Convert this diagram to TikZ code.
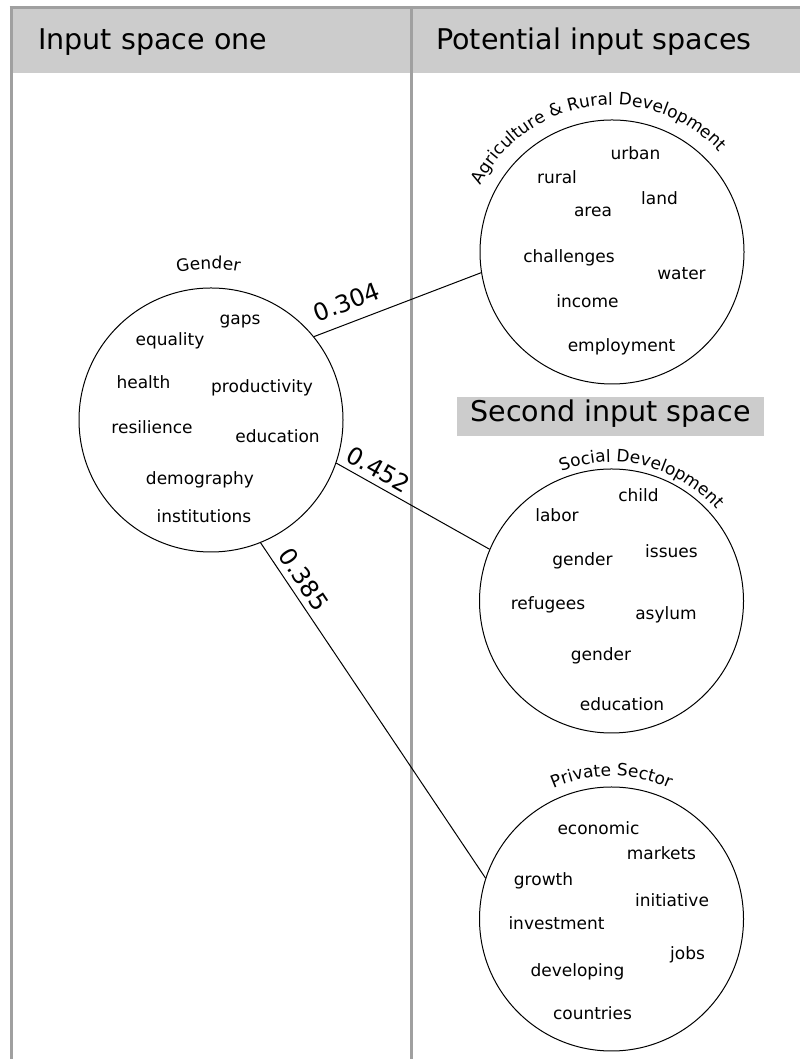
\documentclass[tikz,border=0pt]{standalone}
\usepackage{fontspec}
\setmainfont{DejaVu Sans}
\usetikzlibrary{decorations.text}
\definecolor{hdrgray}{HTML}{CCCCCC}
\definecolor{framegray}{HTML}{A0A0A0}
\newcommand\wfont{\fontsize{12.75pt}{15pt}\selectfont}
\newcommand\hfont{\fontsize{21.4pt}{26pt}\selectfont}
\newcommand\lfont{\fontsize{18pt}{22pt}\selectfont}
\tikzset{
  word/.style={font=\wfont, inner sep=0pt, anchor=base},
  spacecircle/.style={draw, circle, line width=0.75pt, minimum size=198pt, inner sep=0pt},
  conn/.style={line width=0.75pt},
  weight/.style={font=\lfont, inner sep=0pt, sloped},
  framel/.style={draw=framegray, line width=2.25pt},
  header/.style={font=\hfont, inner sep=0pt, anchor=base west},
  arctitle/.style={decorate, decoration={text along path, text={|\wfont|#1}, text align=center}},
}
\begin{document}
\begin{tikzpicture}[x=0.75pt, y=0.75pt]
\useasboundingbox (0,0) rectangle (800,1059);
% header band and frame
\fill[hdrgray] (12.5,986.3) rectangle (800,1050);
\draw[framel] (9.5,1051) -- (800,1051);
\draw[framel] (11,1052.5) -- (11,0);
\draw[framel] (411.3,1052.5) -- (411.3,0);
\node[header] (h1) at (38,1009) {Input space one};
\node[header] (h2) at (436,1009) {Potential input spaces};
\node[fill=hdrgray, font=\hfont, inner sep=0pt, minimum width=230.25pt, minimum height=29.25pt,
      text height=0.93em, text depth=0.215em] (second) at (610.5,642.7) {Second input space};
% circles
\node[spacecircle] (G) at (211,639) {};
\node[spacecircle] (A) at (612,807) {};
\node[spacecircle] (S) at (611.5,458) {};
\node[spacecircle] (P) at (611.5,140) {};
% titles on arcs
\path[arctitle={Gender}] (G.center) ++(136:151) arc[start angle=136, end angle=46, radius=151];
\path[arctitle={Agriculture {\&} Rural Development}] (A.center) ++(178:147) arc[start angle=178, end angle=18, radius=147];
\path[arctitle={Social Development}] (S.center) ++(156:139) arc[start angle=156, end angle=-4, radius=139];
\path[arctitle={Private Sector}] (P.center) ++(150:143) arc[start angle=150, end angle=30, radius=143];
% Gender words
\node[word] (g1) at (240,734) {gaps};
\node[word] (g2) at (170,713) {equality};
\node[word] (g3) at (143.5,670) {health};
\node[word] (g4) at (262,666) {productivity};
\node[word] (g5) at (152,625) {resilience};
\node[word] (g6) at (277.5,616) {education};
\node[word] (g7) at (200,574) {demography};
\node[word] (g8) at (204,536) {institutions};
% Agriculture words
\node[word] (a1) at (635.5,899) {urban};
\node[word] (a2) at (557,875) {rural};
\node[word] (a3) at (659.5,854) {land};
\node[word] (a4) at (593,842) {area};
\node[word] (a5) at (569,796) {challenges};
\node[word] (a6) at (681.5,779) {water};
\node[word] (a7) at (587.5,751) {income};
\node[word] (a8) at (621.5,707) {employment};
% Social words
\node[word] (s1) at (638.5,557) {child};
\node[word] (s2) at (557,537) {labor};
\node[word] (s3) at (671.5,501) {issues};
\node[word] (s4) at (582.5,493) {gender};
\node[word] (s5) at (548,449) {refugees};
\node[word] (s6) at (666,439) {asylum};
\node[word] (s7) at (601,398) {gender};
\node[word] (s8) at (622,348) {education};
% Private words
\node[word] (p1) at (598.5,224) {economic};
\node[word] (p2) at (661.5,199) {markets};
\node[word] (p3) at (543.5,173) {growth};
\node[word] (p4) at (672,152) {initiative};
\node[word] (p5) at (556.5,129) {investment};
\node[word] (p6) at (687.5,99) {jobs};
\node[word] (p7) at (577.5,82) {developing};
\node[word] (p8) at (592.5,39) {countries};
% connectors
\draw[conn] (G.39) -- node[weight, pos=0.24, above=8.3pt] {0.304} (A.189);
\draw[conn] (G.341) -- node[weight, pos=0.227, above=4.3pt] {0.452} (S.157);
\draw[conn] (G.292) -- node[weight, pos=0.135, above=4.5pt] {0.385} (P.162);
\end{tikzpicture}
\end{document}
